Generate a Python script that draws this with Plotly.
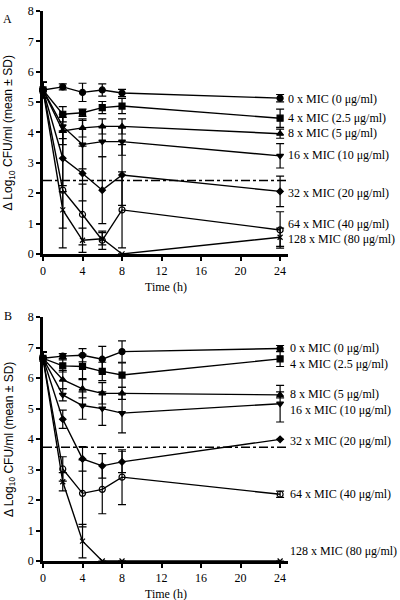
import plotly.graph_objects as go
from plotly.subplots import make_subplots

time_h = [0, 2, 4, 6, 8, 24]
series_labels = ["0 x MIC (0 μg/ml)", "4 x MIC (2.5 μg/ml)", "8 x MIC (5 μg/ml)",
                 "16 x MIC (10 μg/ml)", "32 x MIC (20 μg/ml)", "64 x MIC (40 μg/ml)",
                 "128 x MIC (80 μg/ml)"]
markers = ["circle", "square", "triangle-up", "triangle-down", "diamond", "circle-open", "x-thin"]

# Panel A
a_0x = [5.4, 5.5, 5.32, 5.4, 5.3, 5.13]
a_0x_sd = [0.25, 0.1, 0.3, 0.2, 0.12, 0.12]
a_4x = [5.4, 4.6, 4.65, 4.82, 4.87, 4.47]
a_4x_sd = [0.25, 0.25, 0.12, 0.2, 0.25, 0.3]
a_8x = [5.4, 4.05, 4.15, 4.2, 4.2, 3.96]
a_8x_sd = [0.25, 0.45, 0.3, 0.25, 0.25, 0.15]
a_16x = [5.4, 4.2, 3.6, 3.7, 3.7, 3.23]
a_16x_sd = [0.25, 0.4, 0.8, 0.5, 0.45, 0.4]
a_32x = [5.4, 3.15, 2.65, 2.1, 2.6, 2.06]
a_32x_sd = [0.25, 0.9, 0.9, 1.1, 1.0, 0.5]
a_64x = [5.4, 2.1, 1.3, 0.45, 1.45, 0.79]
a_64x_sd = [0.25, 1.9, 1.0, 0.3, 1.25, 0.6]
a_128x = [5.4, 1.45, 0.45, 0.5, 0.0, 0.55]
a_128x_sd = [0.25, 0.6, 0.4, 0.2, 0.0, 0.3]
a_threshold = 2.42

# Panel B
b_0x = [6.65, 6.72, 6.75, 6.62, 6.87, 6.97]
b_0x_sd = [0.2, 0.08, 0.22, 0.42, 0.35, 0.1]
b_4x = [6.65, 6.4, 6.38, 6.22, 6.1, 6.63]
b_4x_sd = [0.2, 0.2, 0.4, 0.3, 0.4, 0.25]
b_8x = [6.65, 5.95, 5.65, 5.5, 5.5, 5.45]
b_8x_sd = [0.2, 0.3, 0.3, 0.35, 0.2, 0.1]
b_16x = [6.65, 5.45, 5.1, 5.0, 4.85, 5.16]
b_16x_sd = [0.2, 0.2, 0.45, 0.55, 0.65, 0.6]
b_32x = [6.65, 4.65, 3.35, 3.12, 3.25, 3.99]
b_32x_sd = [0.2, 0.3, 0.4, 0.4, 0.35, 0.0]
b_64x = [6.65, 3.02, 2.22, 2.35, 2.75, 2.19]
b_64x_sd = [0.2, 0.4, 1.1, 0.8, 0.9, 0.1]
b_128x = [6.65, 2.6, 0.65, 0.0, 0.0, 0.0]
b_128x_sd = [0.2, 0.3, 0.55, 0.0, 0.0, 0.0]
b_threshold = 3.73

a_means = [a_0x, a_4x, a_8x, a_16x, a_32x, a_64x, a_128x]
a_sds = [a_0x_sd, a_4x_sd, a_8x_sd, a_16x_sd, a_32x_sd, a_64x_sd, a_128x_sd]
b_means = [b_0x, b_4x, b_8x, b_16x, b_32x, b_64x, b_128x]
b_sds = [b_0x_sd, b_4x_sd, b_8x_sd, b_16x_sd, b_32x_sd, b_64x_sd, b_128x_sd]

# label y positions (data units) at right side
a_label_y = [5.1, 4.49, 3.97, 3.25, 2.02, 1.0, 0.5]
b_label_y = [6.99, 6.47, 5.47, 4.95, 3.95, 2.2, 0.32]

serif = "Liberation Serif, Times New Roman, serif"
sans = "Liberation Sans, Arial, sans-serif"

fig = make_subplots(rows=2, cols=1, vertical_spacing=0.115)

for row, means, sds in [(1, a_means, a_sds), (2, b_means, b_sds)]:
    for i in range(7):
        sym = markers[i]
        msize = 6 if sym not in ("diamond", "x-thin") else 5
        fig.add_trace(go.Scatter(
            x=time_h, y=means[i],
            mode="lines+markers",
            line=dict(color="black", width=1.4),
            marker=dict(symbol=sym, size=msize, color="black",
                        line=dict(color="black", width=1.2)),
            error_y=dict(type="data", array=sds[i], visible=True,
                         color="black", thickness=1.2, width=4),
            showlegend=False, cliponaxis=False,
        ), row=row, col=1)

fig.update_layout(
    width=400, height=600,
    margin=dict(l=43, r=112, t=4, b=39),
    paper_bgcolor="white", plot_bgcolor="white",
    font=dict(family=serif, size=12, color="black"),
)

fig.update_layout(
    yaxis=dict(domain=[0.5583, 1.0]),
    yaxis2=dict(domain=[0.0, 0.4434]),
)

for ax in ["xaxis", "xaxis2"]:
    fig.layout[ax].update(range=[0, 24.8], tickvals=[0, 4, 8, 12, 16, 20, 24],
                          showline=True, linecolor="black", linewidth=2.5,
                          ticks="outside", ticklen=4, tickwidth=2, tickcolor="black",
                          showgrid=False, zeroline=False,
                          tickfont=dict(family=serif, size=12))
for ax in ["yaxis", "yaxis2"]:
    fig.layout[ax].update(range=[0, 8], tickvals=list(range(9)),
                          showline=True, linecolor="black", linewidth=2.5,
                          ticks="outside", ticklen=4, tickwidth=2, tickcolor="black",
                          showgrid=False, zeroline=False,
                          tickfont=dict(family=serif, size=12))

# threshold dash-dot lines
fig.add_shape(type="line", xref="x domain", yref="y", x0=0, x1=1.0,
              y0=a_threshold, y1=a_threshold,
              line=dict(color="black", width=1.5, dash="dashdot"))
fig.add_shape(type="line", xref="x2 domain", yref="y2", x0=0, x1=1.0,
              y0=b_threshold, y1=b_threshold,
              line=dict(color="black", width=1.5, dash="dashdot"))

# series labels
for i in range(7):
    fig.add_annotation(xref="x domain", yref="y", x=1.0, y=a_label_y[i],
                       text=series_labels[i], showarrow=False, xanchor="left",
                       yanchor="middle", xshift=-2,
                       font=dict(family=serif, size=12))
    fig.add_annotation(xref="x2 domain", yref="y2", x=1.0, y=b_label_y[i],
                       text=series_labels[i], showarrow=False, xanchor="left",
                       yanchor="middle", xshift=0,
                       font=dict(family=serif, size=12))

# axis titles
ytitle = "Δ Log<sub>10</sub> CFU/ml (mean ± SD)"
for xr, yr in [("x domain", "y domain"), ("x2 domain", "y2 domain")]:
    fig.add_annotation(xref=xr, yref=yr, x=0.5, y=-0.135, text="Time (h)",
                       showarrow=False, xanchor="center", yanchor="middle",
                       font=dict(family=serif, size=12))
    fig.add_annotation(xref=xr, yref=yr, x=-0.135, y=0.5, text=ytitle,
                       textangle=-90, showarrow=False, xanchor="center",
                       yanchor="middle", font=dict(family=sans, size=12))

# panel letters
fig.add_annotation(xref="paper", yref="paper", x=-0.143, y=0.9856, text="A",
                   showarrow=False, xanchor="center", yanchor="middle",
                   font=dict(family=serif, size=12))
fig.add_annotation(xref="paper", yref="paper", x=-0.143, y=0.445, text="B",
                   showarrow=False, xanchor="center", yanchor="middle",
                   font=dict(family=serif, size=12))

fig.write_html("out.html", config={"displayModeBar": False},
               post_script="document.body.style.margin='0';")
